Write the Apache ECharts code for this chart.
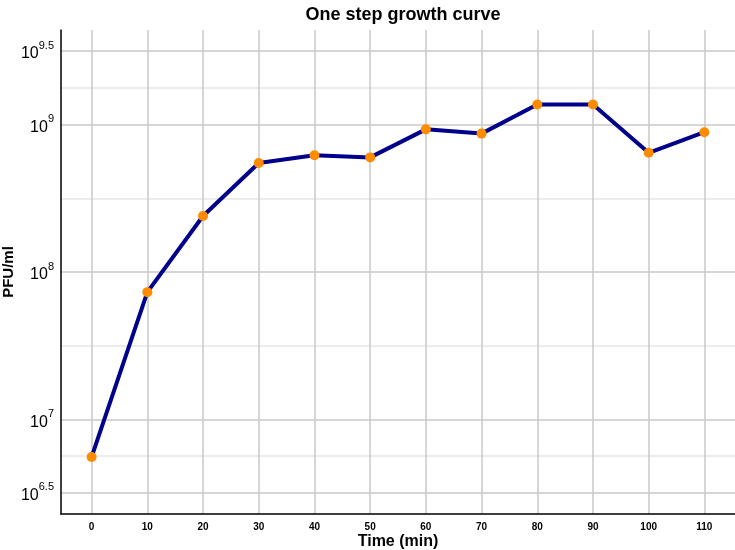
<!DOCTYPE html>
<html>
<head>
<meta charset="utf-8">
<script src="https://cdn.jsdelivr.net/npm/echarts@6/dist/echarts.min.js"></script>
<style>html,body{margin:0;padding:0;background:#fff}#c{width:735px;height:550px}</style>
</head>
<body>
<div id="c"></div>
<script>
const times = [0, 10, 20, 30, 40, 50, 60, 70, 80, 90, 100, 110];
const pfu = [5.55e6, 7.3e7, 2.4e8, 5.5e8, 6.2e8, 6.0e8, 9.3e8, 8.7e8, 1.37e9, 1.37e9, 6.45e8, 8.9e8];
const xTicks = [0, 10, 20, 30, 40, 50, 60, 70, 80, 90, 100, 110];
const yLabelExps = [6.5, 7, 8, 9, 9.5];
const yGridExps = [6.5, 6.75, 7, 7.5, 8, 8.5, 9, 9.25, 9.5];

const chart = echarts.init(document.getElementById('c'), null, {renderer: 'canvas'});
const font = '"Liberation Sans", Arial, Helvetica, sans-serif';
chart.setOption({
  animation: false,
  backgroundColor: '#fff',
  title: {
    text: 'One step growth curve',
    left: 398, top: 1, textAlign: 'center',
    textStyle: {fontFamily: font, fontWeight: 'bold', fontSize: 18, color: '#000'}
  },
  grid: {left: 61, top: 30, right: 0, bottom: 36, containLabel: false, outerBoundsMode: 'none'},
  xAxis: {
    type: 'value', min: -5.5, max: 115.5,
    name: 'Time (min)', nameLocation: 'middle', nameGap: 20, nameMoveOverlap: false,
    nameTextStyle: {fontFamily: font, fontWeight: 'bold', fontSize: 16, color: '#000'},
    axisLine: {show: true, onZero: false, lineStyle: {color: '#000', width: 1.5}},
    axisTick: {show: false, customValues: xTicks},
    axisLabel: {customValues: xTicks, fontFamily: font, fontWeight: 'bold', fontSize: 10, color: '#000', margin: 8},
    splitLine: {show: true, lineStyle: {color: '#c8c8c8', width: 1.5}}
  },
  yAxis: {
    type: 'log', logBase: 10,
    min: Math.pow(10, 6.357), max: Math.pow(10, 9.643),
    name: 'PFU/ml', nameLocation: 'middle', nameGap: 45, nameRotate: 90, nameMoveOverlap: false,
    nameTextStyle: {fontFamily: font, fontWeight: 'bold', fontSize: 15, color: '#000'},
    axisLine: {show: true, onZero: false, lineStyle: {color: '#000', width: 1.5}},
    axisTick: {show: false, customValues: yGridExps.map(e => Math.pow(10, e))},
    axisLabel: {
      customValues: yLabelExps.map(e => Math.pow(10, e)),
      margin: 7,
      formatter: function (v) {
        const e = Math.round(Math.log10(v) * 2) / 2;
        return '{b|10}{s|' + e + '}';
      },
      rich: {
        b: {fontFamily: font, fontSize: 16, color: '#000', lineHeight: 22, verticalAlign: 'bottom'},
        s: {fontFamily: font, fontSize: 11, color: '#000', lineHeight: 22, verticalAlign: 'top'}
      }
    },
    splitLine: {show: true, lineStyle: {color: ['#c8c8c8', '#e6e6e6'], width: 1.5}}
  },
  series: [{
    type: 'line',
    data: times.map((t, i) => [t, pfu[i]]),
    lineStyle: {color: '#00008b', width: 4},
    itemStyle: {color: '#ff8c00', borderWidth: 0},
    symbol: 'circle', symbolSize: 10,
    z: 3
  }]
});
</script>
</body>
</html>
